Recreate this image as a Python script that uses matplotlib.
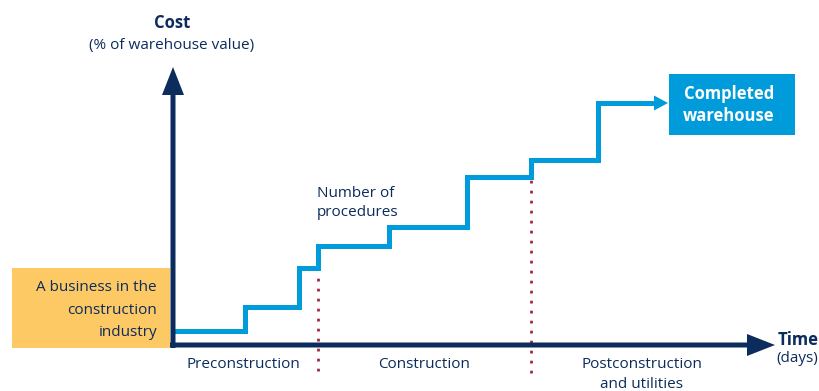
import matplotlib.pyplot as plt
from matplotlib.patches import Rectangle

plt.rcParams['font.family'] = ['Open Sans', 'DejaVu Sans']

navy = "#0b2c5c"
blue = "#009bdb"
orange = "#fdc964"
red = "#a3263b"

# step profile: time (days, arbitrary units) vs cost level
step_times = [0, 72, 126, 145, 216, 294, 358, 425]
step_costs = [14, 38, 77, 99, 118, 168, 185, 242]
end_time = 495

phase_bounds = [145, 358]
phase_labels = ["Preconstruction", "Construction", "Postconstruction\nand utilities"]
phase_centers = [70, 251, 469]

fig = plt.figure(figsize=(8.19, 3.91), dpi=100)
ax = fig.add_axes([0, 0, 1, 1])
ax.set_xlim(-173, 646)
ax.set_ylim(-46, 345)
ax.axis("off")

# orange start box
ax.add_patch(Rectangle((-161, -3), 158, 80, color=orange, lw=0, zorder=1))
ax.text(-16, 35, "A business in the\nconstruction\nindustry", ha="right", va="center",
        fontsize=11, color=navy, linespacing=1.7, zorder=3)

# steps
xs = step_times + [end_time - 12]
ys = step_costs + [step_costs[-1]]
ax.step(xs, ys, where="post", color=blue, lw=3.6, solid_joinstyle="miter", zorder=2)
ax.arrow(end_time - 14, step_costs[-1], 14, 0, width=0, head_width=15, head_length=14,
         length_includes_head=True, color=blue, lw=0, zorder=2)

# completed box
ax.add_patch(Rectangle((496, 210), 126, 61, color=blue, lw=0, zorder=1))
ax.text(556, 240, "Completed\nwarehouse", ha="center", va="center", fontsize=12,
        color="white", fontweight="bold", linespacing=1.25, zorder=3)

# phase dividers
ax.vlines(phase_bounds[0], -26, 72, color=red, lw=2, linestyles=(0, (1, 2.6)), zorder=1)
ax.vlines(phase_bounds[1], -28, 168, color=red, lw=2, linestyles=(0, (1, 2.6)), zorder=1)

# axes arrows
ax.arrow(0, -3, 0, 281, width=5, head_width=22, head_length=28,
         length_includes_head=True, color=navy, lw=0, zorder=4)
ax.arrow(-3, 0, 605, 0, width=5, head_width=22, head_length=28,
         length_includes_head=True, color=navy, lw=0, zorder=4)

for c, lab in zip(phase_centers, phase_labels):
    ax.text(c, -12, lab, ha="center", va="top", fontsize=11, color=navy, linespacing=1.45)

ax.text(144, 142, "Number of\nprocedures", ha="left", va="center", fontsize=11,
        color=navy, linespacing=1.4)

ax.text(-1, 322, "Cost", ha="center", va="center", fontsize=12, fontweight="bold", color=navy)
ax.text(-1, 299, "(% of warehouse value)", ha="center", va="center", fontsize=11, color=navy)
ax.text(605, 5, "Time", ha="left", va="center", fontsize=12, fontweight="bold", color=navy)
ax.text(603, -13, "(days)", ha="left", va="center", fontsize=11, color=navy)

fig.savefig("out.png", dpi=100)
